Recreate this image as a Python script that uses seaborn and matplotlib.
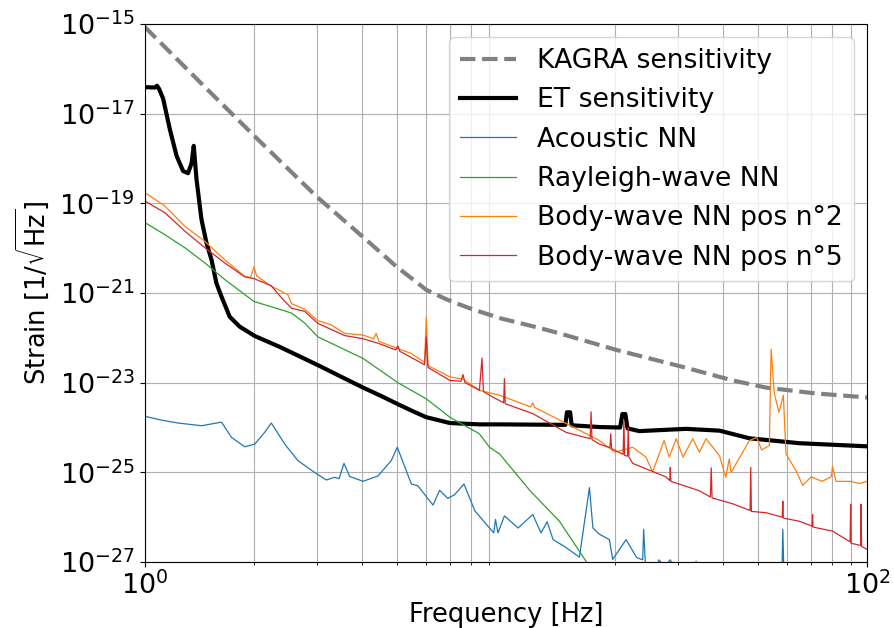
import numpy as np
import pandas as pd
import matplotlib
matplotlib.use("Agg")
import matplotlib.pyplot as plt
import matplotlib.ticker as mticker
import seaborn as sns

# ---------------- data (frequency in Hz, strain as log10 values) ----------------
kagra_f = [1.0, 1.48, 2.04, 2.98, 4.19, 4.97, 6.015, 6.83, 7.92, 9.6, 12.1, 14.06,
           20.2, 30.9, 42.4, 52.5, 72.1, 100.0]
kagra_log = [-15.07, -16.44, -17.55, -18.84, -19.88, -20.41, -20.93, -21.14, -21.34,
             -21.56, -21.76, -21.90, -22.27, -22.65, -22.95, -23.11, -23.24, -23.33]

et_f = [1.0, 1.066, 1.081, 1.095, 1.124, 1.172, 1.224, 1.276, 1.317, 1.347, 1.366,
        1.39, 1.435, 1.481, 1.53, 1.578, 1.63, 1.718, 1.83, 2.016, 2.36, 3.016, 3.5,
        4.02, 4.52, 5.02, 5.53, 6.015, 6.99, 8.44, 9.6, 14.06, 14.6, 14.75, 15.05,
        15.2, 18.14, 20.7, 21.0, 21.4, 21.7, 23.4, 31.5, 39.0, 47.2, 64.9, 100.0]
et_log = [-16.41, -16.42, -16.38, -16.45, -16.67, -17.34, -17.94, -18.28, -18.33,
          -18.11, -17.72, -18.46, -19.36, -19.88, -20.26, -20.78, -21.08, -21.53,
          -21.75, -21.96, -22.20, -22.61, -22.87, -23.11, -23.30, -23.48, -23.64,
          -23.77, -23.90, -23.93, -23.93, -23.94, -23.94, -23.66, -23.66, -23.95,
          -23.99, -24.00, -23.70, -23.70, -24.02, -24.08, -24.03, -24.07, -24.24,
          -24.35, -24.42]

acoustic_f = [1.0, 1.12, 1.236, 1.435, 1.58, 1.63, 1.738, 1.89, 2.016, 2.15, 2.24,
              2.44, 2.655, 2.95, 3.18, 3.35, 3.45, 3.56, 3.69, 4.02, 4.42, 4.81, 5.0,
              5.47, 5.7, 6.28, 6.55, 6.9, 7.2, 7.65, 7.92, 8.2, 9.25, 9.35, 9.5, 9.9,
              10.8, 11.86, 12.5, 13.0, 13.5, 14.5, 15.97, 17.02, 17.4, 18.14, 19.33,
              19.74, 21.5, 23.0, 23.9, 24.05, 24.3, 26.0, 26.5, 27.5, 28.5, 30.0, 33.3,
              33.6, 33.9, 40.0, 58.0, 58.4, 58.9, 100.0]
acoustic_log = [-23.75, -23.84, -23.90, -23.96, -23.90, -23.88, -24.22, -24.43,
                -24.37, -24.10, -23.90, -24.37, -24.74, -25.00, -25.17, -25.11,
                -25.14, -24.80, -25.09, -25.20, -25.08, -24.74, -24.44, -25.26,
                -25.30, -25.73, -25.40, -25.58, -25.50, -25.26, -25.56, -25.86,
                -26.35, -26.05, -26.35, -25.97, -26.24, -25.94, -26.35, -26.10,
                -26.50, -26.65, -26.89, -25.34, -26.24, -26.38, -26.50, -26.94,
                -26.50, -26.90, -26.95, -26.27, -27.00, -27.20, -26.95, -27.10,
                -26.95, -27.30, -27.30, -26.98, -27.30, -27.50, -27.50, -26.27,
                -27.50, -27.80]

rayleigh_f = [1.0, 1.136, 1.29, 1.466, 1.664, 2.006, 2.44, 2.55, 2.77, 3.016, 4.02,
              5.02, 6.015, 6.99, 8.44, 9.0, 9.6, 11.66, 14.06, 16.84, 18.0]
rayleigh_log = [-19.43, -19.70, -19.99, -20.33, -20.70, -21.19, -21.40, -21.45,
                -21.67, -21.98, -22.46, -23.00, -23.36, -23.77, -24.14, -24.44,
                -24.59, -25.41, -26.09, -27.04, -27.40]

pos2_f = [1.0, 1.136, 1.29, 1.466, 1.664, 1.89, 1.96, 2.006, 2.04, 2.24, 2.49, 2.55,
          2.77, 3.016, 3.28, 3.574, 4.02, 4.3, 4.37, 4.45, 5.02, 5.47, 5.95, 6.015,
          6.08, 6.99, 7.6, 8.44, 9.6, 11.7, 11.86, 12.0, 14.68, 18.14, 20.0, 22.43,
          24.4, 25.47, 27.4, 28.3, 29.6, 30.9, 32.9, 34.3, 35.8, 39.0, 40.6, 41.5,
          42.0, 47.2, 49.5, 51.0, 53.6, 54.2, 55.3, 57.0, 58.6, 59.6, 63.5, 66.3,
          70.0, 75.0, 79.5, 80.2, 82.0, 90.0, 95.0, 100.0]
pos2_log = [-18.76, -19.06, -19.51, -19.85, -20.26, -20.63, -20.66, -20.42, -20.62,
            -20.85, -21.04, -21.24, -21.36, -21.62, -21.71, -21.90, -21.94, -22.02,
            -21.90, -22.08, -22.24, -22.35, -22.55, -21.54, -22.62, -22.87, -22.92,
            -23.17, -23.28, -23.54, -23.45, -23.55, -23.91, -24.29, -24.55, -24.44,
            -24.66, -24.99, -24.29, -24.66, -24.25, -24.66, -24.25, -24.55, -24.25,
            -24.63, -25.11, -24.70, -25.00, -24.29, -24.22, -24.50, -24.40, -22.25,
            -23.24, -23.66, -23.28, -24.59, -24.96, -25.29, -25.10, -25.20, -25.10,
            -24.87, -25.20, -25.20, -25.25, -25.20]

pos5_f = [1.0, 1.136, 1.29, 1.466, 1.664, 1.89, 2.006, 2.24, 2.39, 2.546, 2.77, 3.016,
          3.574, 4.02, 4.42, 4.95, 5.02, 5.08, 5.95, 6.015, 6.08, 6.99, 7.5, 7.6,
          7.7, 8.44, 8.58, 8.66, 9.19, 9.85, 9.9, 9.95, 11.86, 14.68, 17.1, 17.2,
          17.3, 18.14, 19.4, 19.5, 19.6, 20.5, 21.1, 21.2, 21.3, 21.7, 21.8, 21.9,
          22.43, 27.7, 28.4, 28.5, 28.6, 34.3, 36.8, 37.0, 37.2, 42.4, 47.4, 47.6,
          47.8, 52.5, 58.2, 58.4, 58.6, 64.9, 70.4, 70.6, 70.8, 80.2, 89.7, 90.0,
          90.3, 95.9, 96.2, 96.5, 100.0]
pos5_log = [-18.95, -19.21, -19.62, -19.99, -20.33, -20.64, -20.68, -20.84, -21.11,
            -21.34, -21.41, -21.68, -21.95, -22.02, -22.12, -22.27, -22.18, -22.30,
            -22.60, -21.98, -22.66, -22.95, -22.97, -22.82, -23.00, -23.17, -22.45,
            -23.20, -23.32, -23.45, -22.91, -23.47, -23.69, -24.11, -24.25, -23.65,
            -24.27, -24.37, -24.45, -24.14, -24.47, -24.55, -24.60, -23.84, -24.62,
            -24.64, -24.00, -24.66, -24.80, -25.10, -25.18, -24.89, -25.20, -25.41,
            -25.55, -24.90, -25.57, -25.70, -25.85, -24.89, -25.87, -25.90, -26.00,
            -25.64, -26.02, -26.09, -26.20, -25.94, -26.22, -26.31, -26.55, -25.71,
            -26.58, -26.63, -25.71, -26.65, -26.72]

labels = ["KAGRA sensitivity", "ET sensitivity", "Acoustic NN", "Rayleigh-wave NN",
          "Body-wave NN pos n°2", "Body-wave NN pos n°5"]
xtick_vals = [1, 100]
ytick_exps = [-27, -25, -23, -21, -19, -17, -15]

# ---------------- figure ----------------
fig = plt.figure(figsize=(8.94, 6.28), dpi=100)
ax = fig.add_axes([0.162, 0.105, 0.808, 0.857])

def draw(f, lg, label, **kw):
    df = pd.DataFrame({"f": f, "s": np.power(10.0, lg)})
    sns.lineplot(data=df, x="f", y="s", ax=ax, label=label, estimator=None,
                 sort=True, **kw)

draw(kagra_f, kagra_log, labels[0], color="grey", linewidth=3, linestyle="--")
draw(et_f, et_log, labels[1], color="black", linewidth=3)
draw(acoustic_f, acoustic_log, labels[2], color="#1f77b4", linewidth=0.9)
draw(rayleigh_f, rayleigh_log, labels[3], color="#2ca02c", linewidth=0.9)
draw(pos2_f, pos2_log, labels[4], color="#ff7f0e", linewidth=0.9)
draw(pos5_f, pos5_log, labels[5], color="#d62728", linewidth=0.9)

ax.set_xscale("log")
ax.set_yscale("log")
ax.set_xlim(1, 100)
ax.set_ylim(1e-27, 1e-15)

ax.xaxis.set_major_locator(mticker.FixedLocator(xtick_vals))
ax.xaxis.set_minor_locator(mticker.LogLocator(base=10, subs=np.arange(2, 10)))
ax.xaxis.set_minor_formatter(mticker.NullFormatter())
ax.yaxis.set_major_locator(mticker.FixedLocator([10.0 ** e for e in ytick_exps]))
ax.yaxis.set_minor_locator(mticker.NullLocator())
ax.xaxis.set_major_formatter(mticker.LogFormatterSciNotation())
ax.yaxis.set_major_formatter(mticker.LogFormatterSciNotation())

ax.grid(True, which="both", axis="x", color="#b0b0b0", linewidth=0.8)
ax.grid(True, which="major", axis="y", color="#b0b0b0", linewidth=0.8)
ax.set_axisbelow(True)

ax.tick_params(axis="both", which="major", labelsize=19.5)
ax.set_xlabel("Frequency [Hz]", fontsize=18.5, labelpad=1)
ax.set_ylabel(r"Strain [1/$\sqrt{\mathrm{Hz}}$]", fontsize=18.5, labelpad=6)

ax.legend(loc="upper right", fontsize=19.2, framealpha=0.8, handlelength=2.1,
          borderaxespad=0.5)

fig.savefig("out.png", dpi=100)
